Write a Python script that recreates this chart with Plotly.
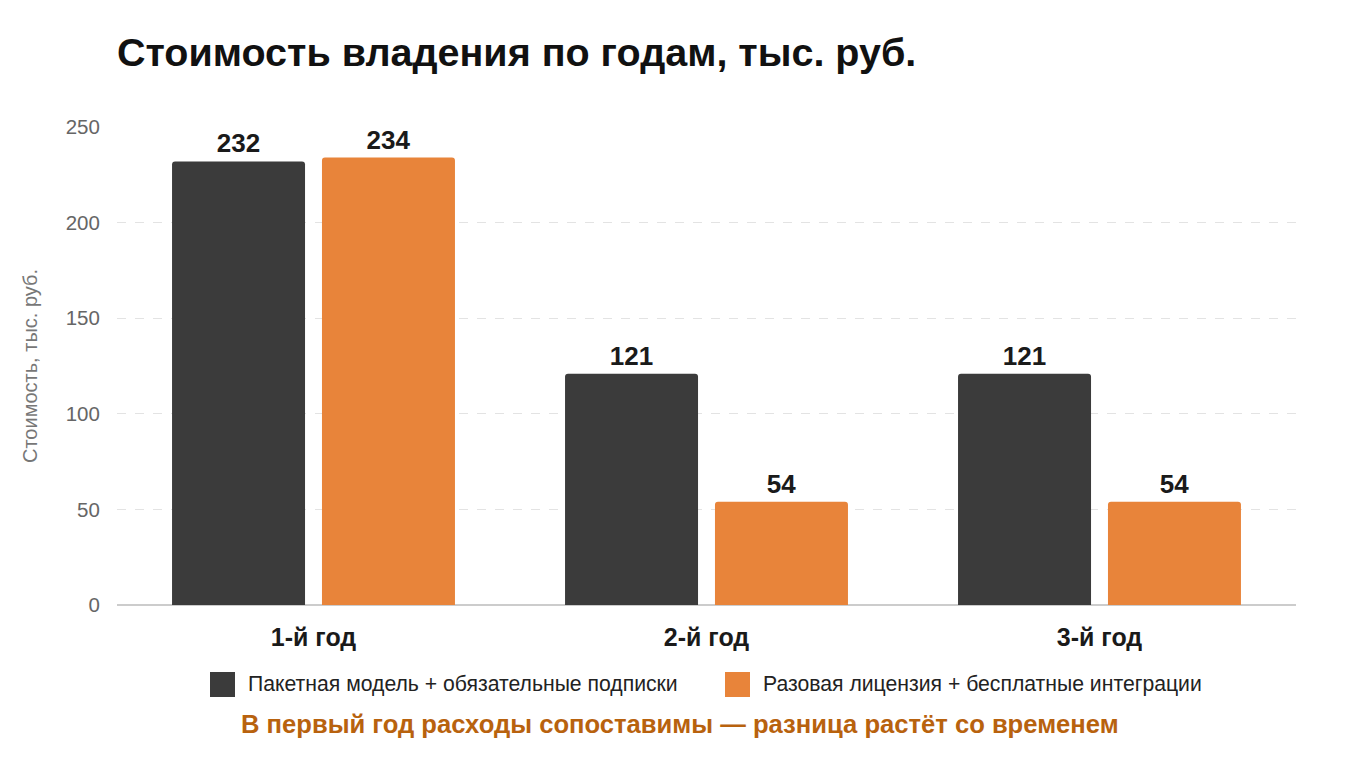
import plotly.graph_objects as go

categories = ["1-й год", "2-й год", "3-й год"]
series_names = ["Пакетная модель + обязательные подписки", "Разовая лицензия + бесплатные интеграции"]
package_values = [232, 121, 121]
license_values = [234, 54, 54]
colors = ["#3b3b3b", "#E8843A"]
y_ticks = [0, 50, 100, 150, 200, 250]

FONT = "Liberation Sans, Arial, sans-serif"

fig = go.Figure()
for name, vals, col in zip(series_names, [package_values, license_values], colors):
    fig.add_trace(go.Bar(
        x=categories, y=vals, name=name,
        marker=dict(color=col, line=dict(width=0)),
        text=[str(v) for v in vals], textposition="outside",
        textfont=dict(family=FONT, size=26, color="#1a1a1a"),
        texttemplate="<b>%{text}</b>",
        cliponaxis=False, showlegend=False,
    ))

# manual legend (larger rounded swatches)
shapes = []
annotations = []
sw_x = [210, 725]
for i, (name, col) in enumerate(zip(series_names, colors)):
    x0 = sw_x[i]
    shapes.append(dict(type="rect", xref="paper", yref="paper",
                       x0=(x0 - 117) / 1179, x1=(x0 + 25 - 117) / 1179,
                       y0=(605 - 697) / 478, y1=(605 - 672) / 478,
                       fillcolor=col, line=dict(width=0), layer="above"))
    annotations.append(dict(text=name, xref="paper", yref="paper",
                            x=(x0 + 36 - 117) / 1179, y=(605 - 684) / 478,
                            xanchor="left", yanchor="middle", showarrow=False,
                            font=dict(family=FONT, size=21.2, color="#222222")))

annotations.append(dict(text="<b>В первый год расходы сопоставимы — разница растёт со временем</b>",
                        xref="paper", yref="paper", x=(680 - 117) / 1179, y=(605 - 724) / 478,
                        xanchor="center", yanchor="middle", showarrow=False,
                        font=dict(family=FONT, size=25.6, color="#B8620E")))

fig.update_layout(
    width=1360, height=765,
    margin=dict(l=117, r=64, t=127, b=160),
    paper_bgcolor="white", plot_bgcolor="white",
    barmode="group", bargap=0.237, bargroupgap=0.113,
    barcornerradius=3,
    title=dict(text="<b>Стоимость владения по годам, тыс. руб.</b>",
               x=117 / 1360, xanchor="left", xref="container",
               y=1 - 52 / 765, yanchor="middle", yref="container",
               font=dict(family=FONT, size=39.5, color="#111111")),
    font=dict(family=FONT),
    shapes=shapes,
    annotations=annotations,
    xaxis=dict(
        tickfont=dict(family=FONT, size=25, color="#1a1a1a"),
        tickprefix="<b>", ticksuffix="</b>",
        ticks="outside", ticklen=10, tickcolor="rgba(0,0,0,0)",
        showline=False, showgrid=False, zeroline=False,
    ),
    yaxis=dict(
        range=[0, 250], tickvals=y_ticks,
        tickfont=dict(family=FONT, size=20.5, color="#666666"),
        ticks="outside", ticklen=12, tickcolor="rgba(0,0,0,0)",
        showgrid=True, gridcolor="#e3e3e3", griddash="dash", gridwidth=1,
        zeroline=True, zerolinecolor="#cccccc", zerolinewidth=2,
        title=dict(text="Стоимость, тыс. руб.", standoff=22,
                   font=dict(family=FONT, size=20, color="#777777")),
    ),
)

fig.write_html("out.html")
